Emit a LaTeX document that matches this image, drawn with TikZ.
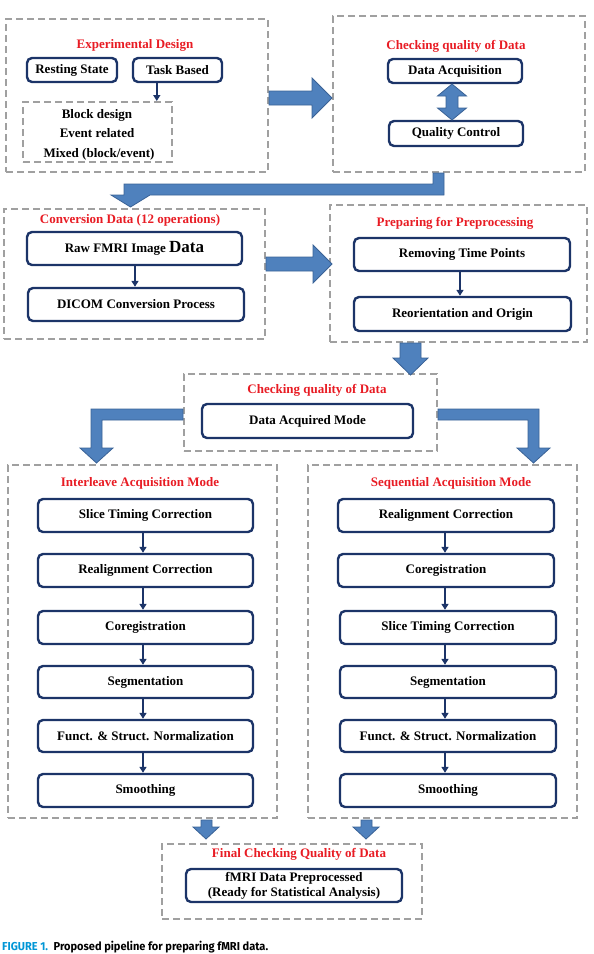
\documentclass[tikz,border=0pt]{standalone}
\usepackage{fontspec}
\setmainfont{Liberation Serif}
\newfontfamily\capfont{Fira Sans}
\usetikzlibrary{arrows.meta}
\definecolor{navy}{RGB}{28,52,104}
\definecolor{tred}{RGB}{232,28,36}
\definecolor{ablue}{RGB}{79,129,189}
\definecolor{aedge}{RGB}{58,98,150}
\definecolor{dgray}{RGB}{160,160,160}
\definecolor{capblue}{RGB}{0,150,214}
\tikzset{
  groupbox/.style={draw=dgray,line width=2pt,dash pattern=on 7pt off 4pt,inner sep=0pt},
  procbox/.style={draw=navy,line width=2.4pt,rounded corners=5pt,fill=white,inner sep=0pt,
    font=\fontsize{13}{15}\selectfont\bfseries,text=black,align=center},
  titletext/.style={text=tred,font=\fontsize{13}{15}\selectfont\bfseries,anchor=base,inner sep=0pt},
  plaintext/.style={text=black,font=\fontsize{13}{15}\selectfont\bfseries,anchor=base,inner sep=0pt},
  conn/.style={draw=navy,line width=1.6pt,-{Triangle[length=6pt,width=7pt]}},
  bigarrow/.style={fill=ablue,draw=aedge,line width=0.8pt,line join=miter}
}
\begin{document}
\begin{tikzpicture}[x=1pt,y=-1pt]
\useasboundingbox (0,0) rectangle (594,954);

% ---------- group boxes ----------
\node[groupbox,minimum width=262pt,minimum height=153pt] (g1) at (137,95.5) {};
\node[groupbox,minimum width=149pt,minimum height=60pt] (g1in) at (97.5,132) {};
\node[groupbox,minimum width=252pt,minimum height=156pt] (g2) at (459,94) {};
\node[groupbox,minimum width=261pt,minimum height=130pt] (g3) at (134.5,274) {};
\node[groupbox,minimum width=257pt,minimum height=137pt] (g4) at (458.5,273.5) {};
\node[groupbox,minimum width=253pt,minimum height=77pt] (g5) at (310.5,412.5) {};
\node[groupbox,minimum width=269pt,minimum height=353pt] (g6) at (142.5,641.5) {};
\node[groupbox,minimum width=269pt,minimum height=353pt] (g7) at (442.5,641.5) {};
\node[groupbox,minimum width=260pt,minimum height=75pt] (g8) at (292,881.5) {};

% ---------- titles ----------
\node[titletext] (t1) at (135,48.5) {Experimental Design};
\node[titletext] (t2) at (456,49.5) {Checking quality of Data};
\node[titletext] (t3) at (130,223.5) {Conversion Data (12 operations)};
\node[titletext] (t4) at (455,226.5) {Preparing for Preprocessing};
\node[titletext] (t5) at (317,393.5) {Checking quality of Data};
\node[titletext] (t6) at (140,486.5) {Interleave Acquisition Mode};
\node[titletext] (t7) at (451,486.5) {Sequential Acquisition Mode};
\node[titletext] (t8) at (299,857.5) {Final Checking Quality of Data};

% ---------- experimental design ----------
\node[procbox,minimum width=90pt,minimum height=24pt] (rest) at (72,70) {Resting State};
\node[procbox,minimum width=89pt,minimum height=24pt] (task) at (177.5,70) {Task Based};
\node[plaintext] (bd) at (97,118.5) {Block design};
\node[plaintext] (er) at (97,137.5) {Event related};
\node[plaintext] (mx) at (99,157.5) {Mixed (block/event)};
\draw[conn] ([xshift=25pt]task.south west) -- ([xshift=25pt]task.south west |- g1in.north);

% ---------- checking quality (top) ----------
\node[procbox,minimum width=134pt,minimum height=24pt] (dacq) at (455,71) {Data Acquisition};
\node[procbox,minimum width=134pt,minimum height=25pt] (qc) at (456,133.5) {Quality Control};
\draw[bigarrow] (452,84) -- (466.5,96) -- (458,96) -- (458,108) -- (466.5,108) -- (452,120)
  -- (437.5,108) -- (446,108) -- (446,96) -- (437.5,96) -- cycle;

% ---------- conversion ----------
\node[procbox,minimum width=215pt,minimum height=33pt] (raw) at (134.5,248.5)
  {Raw FMRI Image {\fontsize{17}{17}\selectfont Data}};
\node[procbox,minimum width=216pt,minimum height=33pt] (dicom) at (136,304.5) {DICOM Conversion Process};
\draw[conn] (raw.south -| 135,0) -- (dicom.north -| 135,0);

% ---------- preparing ----------
\node[procbox,minimum width=216pt,minimum height=33pt] (remove) at (462,254.5) {Removing Time Points};
\node[procbox,minimum width=217pt,minimum height=34pt] (reor) at (462.5,314) {Reorientation and Origin};
\draw[conn] (remove.south -| 460,0) -- (reor.north -| 460,0);

% ---------- data acquired mode ----------
\node[procbox,minimum width=211pt,minimum height=34pt] (dam) at (307.5,421) {Data Acquired Mode};

% ---------- interleave column ----------
\node[procbox,minimum width=215pt,minimum height=33pt] (a1) at (145.5,515.5) {Slice Timing Correction};
\node[procbox,minimum width=215pt,minimum height=33pt] (a2) at (145.5,570.5) {Realignment Correction};
\node[procbox,minimum width=215pt,minimum height=33pt] (a3) at (145.5,627.5) {Coregistration};
\node[procbox,minimum width=215pt,minimum height=32pt] (a4) at (145.5,682) {Segmentation};
\node[procbox,minimum width=215pt,minimum height=32pt] (a5) at (145.5,736) {Funct. \& Struct. Normalization};
\node[procbox,minimum width=215pt,minimum height=33pt] (a6) at (145.5,790.5) {Smoothing};
\foreach \u/\v in {a1/a2,a2/a3,a3/a4,a4/a5,a5/a6}
  \draw[conn] (\u.south -| 143,0) -- (\v.north -| 143,0);

% ---------- sequential column ----------
\node[procbox,minimum width=216pt,minimum height=33pt] (b1) at (446,515.5) {Realignment Correction};
\node[procbox,minimum width=216pt,minimum height=33pt] (b2) at (446,570.5) {Coregistration};
\node[procbox,minimum width=216pt,minimum height=33pt] (b3) at (448,627.5) {Slice Timing Correction};
\node[procbox,minimum width=216pt,minimum height=32pt] (b4) at (448,682) {Segmentation};
\node[procbox,minimum width=216pt,minimum height=32pt] (b5) at (448,736) {Funct. \& Struct. Normalization};
\node[procbox,minimum width=216pt,minimum height=33pt] (b6) at (448,790.5) {Smoothing};
\foreach \u/\v in {b1/b2,b2/b3,b3/b4,b4/b5,b5/b6}
  \draw[conn] (\u.south -| 445,0) -- (\v.north -| 445,0);

% ---------- final ----------
\node[procbox,minimum width=216pt,minimum height=33pt,font=\fontsize{13}{15}\selectfont\bfseries] (fmri) at (294,885.5)
  {fMRI Data Preprocessed\\(Ready for Statistical Analysis)};

% ---------- big block arrows ----------
% experimental -> checking
\draw[bigarrow] (g1.east |- 0,91) -- (312,91) -- (312,78) -- (332,98) -- (312,118) -- (312,105) -- (g1.east |- 0,105) -- cycle;
% checking -> conversion (bent)
\draw[bigarrow] (444,173) -- (444,195) -- (150,195) -- (130.5,207) -- (111,195) -- (124,195)
  -- (124,184) -- (433,184) -- (433,173) -- cycle;
% conversion -> preparing
\draw[bigarrow] (g3.east |- 0,257) -- (313,257) -- (313,245) -- (332,264) -- (313,283) -- (313,271) -- (g3.east |- 0,271) -- cycle;
% preparing -> checking (mid)
\draw[bigarrow] (400,343) -- (421,343) -- (421,358) -- (428,358) -- (410.5,375) -- (393,358) -- (400,358) -- cycle;
% mid -> interleave (bent left)
\draw[bigarrow] (183,409) -- (183,420) -- (102,420) -- (102,448) -- (113,448) -- (96.5,463) -- (80,448)
  -- (91,448) -- (91,409) -- cycle;
% mid -> sequential (bent right)
\draw[bigarrow] (438,409) -- (438,420) -- (528,420) -- (528,448) -- (517,448) -- (533.5,463) -- (550,448)
  -- (539,448) -- (539,409) -- cycle;
% interleave -> final
\draw[bigarrow] (201,820) -- (212,820) -- (212,827) -- (219,827) -- (206,839) -- (193,827) -- (201,827) -- cycle;
% sequential -> final
\draw[bigarrow] (361,820) -- (372,820) -- (372,827) -- (379,827) -- (366,839) -- (353,827) -- (361,827) -- cycle;

% ---------- caption ----------
\node[anchor=base west,inner sep=0pt,font=\capfont\bfseries\fontsize{11.5}{13}\selectfont] (cap) at (2,950)
  {\scalebox{0.96}[1]{\textcolor{capblue}{FIGURE 1.}\enspace Proposed pipeline for preparing fMRI data.}};
\end{tikzpicture}
\end{document}
